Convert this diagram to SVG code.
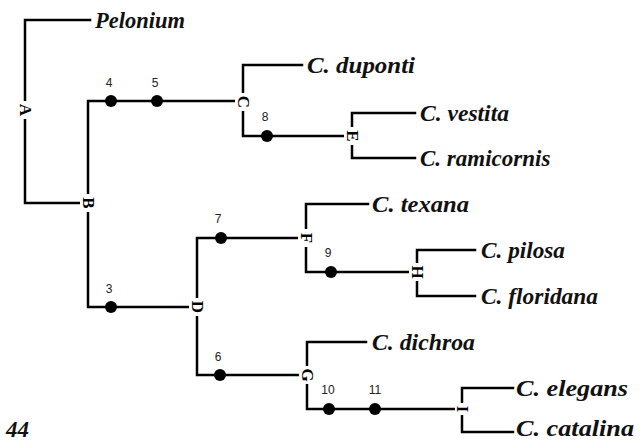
<svg xmlns="http://www.w3.org/2000/svg" width="640" height="440" viewBox="0 0 640 440">
<style>
.ln{fill:none;stroke:#000;stroke-width:2.5;stroke-linecap:square}
.tx{font-family:"Liberation Serif","Times New Roman",serif;font-weight:bold;font-style:italic;font-size:23px;fill:#111}
.nl{font-family:"Liberation Serif","Times New Roman",serif;font-weight:bold;font-size:17px;fill:#000;text-anchor:middle;dominant-baseline:central}
.num{font-family:"Liberation Sans",Arial,sans-serif;font-size:12px;fill:#222;text-anchor:middle}
.gap{fill:#fff}
</style>
<rect width="640" height="440" fill="#fff"/>
<g id="connectors">
<path class="ln" d="M90,20 H25 V203 H88"/>
<path class="ln" d="M243,101 H88 V307 H197"/>
<path class="ln" d="M302,65 H243 V136 H350"/>
<path class="ln" d="M415,113 H352 V158 H415"/>
<path class="ln" d="M306,238 H197 V375 H307"/>
<path class="ln" d="M368,204 H306 V272 H417"/>
<path class="ln" d="M475,250 H417 V296 H475"/>
<path class="ln" d="M366,342 H307 V409 H462"/>
<path class="ln" d="M513,388 H462 V432 H513"/>
</g>
<g id="marks">
<circle cx="111" cy="101" r="6"/><text class="num" x="109" y="87">4</text>
<circle cx="157" cy="101" r="6"/><text class="num" x="155" y="87">5</text>
<circle cx="267" cy="136" r="6"/><text class="num" x="265" y="121">8</text>
<circle cx="111" cy="307" r="6"/><text class="num" x="109" y="293">3</text>
<circle cx="221" cy="238" r="6"/><text class="num" x="218" y="223">7</text>
<circle cx="331" cy="272" r="6"/><text class="num" x="328" y="257">9</text>
<circle cx="220" cy="375" r="6"/><text class="num" x="218" y="361">6</text>
<circle cx="329" cy="409" r="6"/><text class="num" x="328" y="394">10</text>
<circle cx="375" cy="409" r="6"/><text class="num" x="375" y="394">11</text>
</g>
<g id="node-A"><rect class="gap" x="17" y="101" width="16" height="18"/><text class="nl" transform="translate(25,110) rotate(90)">A</text></g>
<g id="node-B"><rect class="gap" x="80" y="194" width="16" height="18"/><text class="nl" transform="translate(88,203) rotate(90)">B</text></g>
<g id="node-C"><rect class="gap" x="235" y="93" width="16" height="18"/><text class="nl" transform="translate(243,102) rotate(90)">C</text></g>
<g id="node-D"><rect class="gap" x="189" y="298" width="16" height="18"/><text class="nl" transform="translate(197,307) rotate(90)">D</text></g>
<g id="node-E"><rect class="gap" x="344" y="127" width="16" height="18"/><text class="nl" transform="translate(352,136) rotate(90)">E</text></g>
<g id="node-F"><rect class="gap" x="298" y="229" width="16" height="18"/><text class="nl" transform="translate(306,238) rotate(90)">F</text></g>
<g id="node-G"><rect class="gap" x="299" y="366" width="16" height="18"/><text class="nl" transform="translate(307,375) rotate(90)">G</text></g>
<g id="node-H"><rect class="gap" x="409" y="263" width="16" height="18"/><text class="nl" transform="translate(417,272) rotate(90)">H</text></g>
<g id="node-I"><rect class="gap" x="455" y="403" width="14" height="12"/><text class="nl" transform="translate(462,409) rotate(90)">I</text></g>
<g id="taxa">
<text class="tx" x="95" y="28" textLength="90" lengthAdjust="spacingAndGlyphs">Pelonium</text>
<text class="tx" x="307" y="73" textLength="108" lengthAdjust="spacingAndGlyphs">C. duponti</text>
<text class="tx" x="420" y="121" textLength="89" lengthAdjust="spacingAndGlyphs">C. vestita</text>
<text class="tx" x="420" y="166">C. ramicornis</text>
<text class="tx" x="372" y="212" textLength="97" lengthAdjust="spacingAndGlyphs">C. texana</text>
<text class="tx" x="481" y="258" textLength="84" lengthAdjust="spacingAndGlyphs">C. pilosa</text>
<text class="tx" x="481" y="304" textLength="117" lengthAdjust="spacingAndGlyphs">C. floridana</text>
<text class="tx" x="372" y="350" textLength="103" lengthAdjust="spacingAndGlyphs">C. dichroa</text>
<text class="tx" x="516" y="396" textLength="112" lengthAdjust="spacingAndGlyphs">C. elegans</text>
<text class="tx" x="516" y="436" textLength="118" lengthAdjust="spacingAndGlyphs">C. catalina</text>
<text class="tx" x="6" y="437">44</text>
</g>
</svg>
